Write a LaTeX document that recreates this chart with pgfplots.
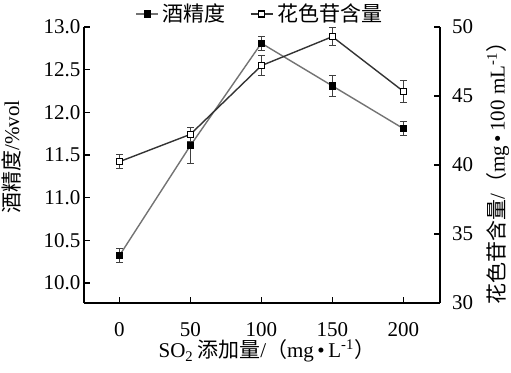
\documentclass[border=0pt]{standalone}
\usepackage{fontspec}
\setmainfont{Liberation Serif}
\newfontfamily\cjk{Noto Sans CJK SC}
\usepackage{pgfplots}
\usepackage{pgfplotstable}
\pgfplotsset{compat=1.18}

\pgfplotstableread{
x y e
0 10.32 0.08
50 11.61 0.21
100 12.81 0.08
150 12.31 0.12
200 11.81 0.08
}\alc
\pgfplotstableread{
x y e
0 40.24 0.50
50 42.22 0.50
100 47.20 0.70
150 49.30 0.64
200 45.34 0.78
}\ant

\begin{document}
\begin{tikzpicture}[font=\fontsize{10.5}{12}\selectfont]
\path[use as bounding box] (0,0) rectangle (255.5pt,186pt);
\pgfplotsset{
  every axis/.append style={
    at={(42pt,34.5pt)}, anchor=south west,
    scale only axis, width=178pt, height=138pt,
    xmin=-24.9, xmax=225.8,
    tick align=inside, major tick length=3pt,
    axis line style={line width=0.8pt},
    every tick/.style={black, line width=0.6pt},
    /pgf/number format/assume math mode=true,
    legend image code/.code={\draw[mark repeat=2,mark phase=2,#1] plot coordinates {(0pt,0pt) (5.5pt,0pt) (11pt,0pt)};},
  },
}
\begin{axis}[
  axis y line*=left, axis x line*=bottom,
  ymin=9.766, ymax=13.0,
  xtick={0,50,100,150,200},
  ytick={10,10.5,11,11.5,12,12.5,13},
  yticklabel style={/pgf/number format/fixed, /pgf/number format/fixed zerofill, /pgf/number format/precision=1, xshift=1.75pt},
  xticklabel style={yshift=-6pt},
]
\addplot[color=black!55, line width=0.7pt, mark=square*, mark size=1.5pt,
  mark options={black, solid, fill=black},
  error bars/.cd, y dir=both, y explicit,
  error bar style={black!75, line width=0.5pt},
  error mark options={rotate=90, mark size=1.6pt, black!75, line width=0.5pt}]
  table[x=x, y=y, y error=e]{\alc};
\end{axis}
\begin{axis}[
  axis y line*=right, axis x line=none,
  ymin=30, ymax=50,
  ytick={30,35,40,45,50},
  yticklabel style={xshift=2.5pt},
  legend columns=2,
  legend style={at={(0.497,1.047)}, anchor=center, draw=none, fill=none,
    /tikz/every even column/.append style={column sep=10pt}},
]
\addlegendimage{color=black!55, line width=0.7pt, mark=square*, mark size=1.5pt, mark options={black, solid, fill=black}}
\addlegendentry{\cjk 酒精度}
\addplot[color=black!80, line width=0.7pt, mark=square*, mark size=1.5pt,
  mark options={black, solid, fill=white},
  error bars/.cd, y dir=both, y explicit,
  error bar style={black!75, line width=0.5pt},
  error mark options={rotate=90, mark size=1.6pt, black!75, line width=0.5pt}]
  table[x=x, y=y, y error=e]{\ant};
\addlegendentry{\cjk 花色苷含量}
\end{axis}
\node[rotate=90] at (5.5pt,107.5pt) {{\cjk 酒精度}/\%vol};
\node[rotate=90] at (249pt,102pt) {{\cjk 花色苷含量}/{\cjk （}mg\,•\,100 mL\textsuperscript{-1}{\cjk ）}};
\node at (133.5pt,10.5pt) {SO\textsubscript{2}\,{\cjk 添加量}/{\cjk （}mg\,•\,L\textsuperscript{-1}{\cjk ）}};
\end{tikzpicture}
\end{document}
